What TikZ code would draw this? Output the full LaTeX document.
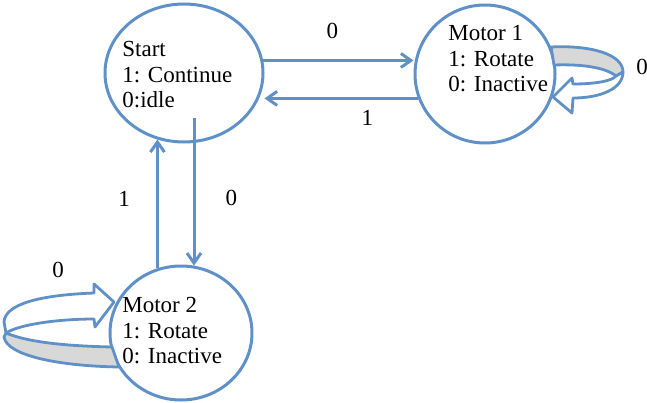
\documentclass[tikz,border=0pt]{standalone}
\usepackage{fontspec}
\setmainfont{Liberation Serif}
\usetikzlibrary{calc,positioning,shapes.geometric,arrows.meta}
\definecolor{lineblue}{RGB}{95,145,200}
\definecolor{bandgray}{RGB}{216,216,216}

\begin{document}
\begin{tikzpicture}[x=0.5pt, y=-0.5pt, font=\fontsize{11.5}{12.75}\selectfont,
    state/.style={draw=lineblue, line width=1.5pt, ellipse, inner sep=0pt},
    statetxt/.style={align=left, inner sep=0pt, anchor=west},
    flow/.style={draw=lineblue, line width=1.5pt, -{Straight Barb[length=5pt,width=7pt]}},
    band/.style={draw=lineblue, line width=1.4pt, line join=round},
    lbl/.style={inner sep=0pt}]
        \useasboundingbox (0,0) rectangle (647,402);
        %% estados
        \node[state, minimum width=79pt, minimum height=69pt] (start) at (184,73) {};
        \node[state, minimum width=70pt, minimum height=69pt] (m1) at (485,74) {};
        \node[state, minimum width=71pt, minimum height=67pt] (m2) at (181,333) {};
        \node[statetxt] (starttxt) at ($(start)+(-62,2)$) {Start\\1: Continue\\0:idle};
        \node[statetxt] (m1txt) at ($(m1)+(-37,-15)$) {Motor 1\\1: Rotate\\0: Inactive};
        \node[statetxt] (m2txt) at ($(m2)+(-59,-2)$) {Motor 2\\1: Rotate\\0: Inactive};
        \coordinate (dn) at ($(start)+(10,45)$);
        %% transiciones
        \draw[flow] (start.9.5) -- node[lbl, pos=0.46, above=10pt]{0} (start.9.5 -| m1.west);
        \draw[flow] (m1.200) -- node[lbl, pos=0.33, below=5pt]{1} (m1.200 -| start.east);
        \draw[flow] (m2.110) -- node[lbl, pos=0.54, left=13pt]{1} (m2.110 |- start.248);
        \draw[flow] (dn) -- node[lbl, pos=0.54, right=15pt]{0} (dn |- m2.79);
        %% lazo Motor 1
        \begin{scope}[shift={(m1.center)}]
            \path[band, fill=bandgray] (66,-27) .. controls (105,-29) and (138,-20) .. (138,-2)
                -- (131,2) .. controls (120,-7) and (95,-10) .. (69,-9) -- cycle;
            \path[band, fill=white] (138,-2) .. controls (138,15) and (115,24) .. (88,24)
                -- (87,39) -- (68,23) -- (87,4) -- (88,10)
                .. controls (110,10) and (127,7) .. (131,2) -- cycle;
        \end{scope}
        \node[lbl] (m1loop) at ($(m1)+(157,-7)$) {0};
        %% lazo Motor 2
        \begin{scope}[shift={(m2.center)}]
            \path[band, fill=white] (-87,-40) .. controls (-141,-38) and (-176,-29) .. (-177,-11)
                -- (-175,0) .. controls (-161,-9) and (-121,-14) .. (-87,-14)
                -- (-86,-6) -- (-67,-31) -- (-87,-49) -- cycle;
            \path[band, fill=bandgray] (-175,0) .. controls (-151,10) and (-111,13) .. (-69,14)
                -- (-62,34) .. controls (-121,33) and (-174,23) .. (-177,4) -- cycle;
        \end{scope}
        \node[lbl] (m2loop) at ($(m2)+(-123,-63)$) {0};
\end{tikzpicture}
\end{document}
